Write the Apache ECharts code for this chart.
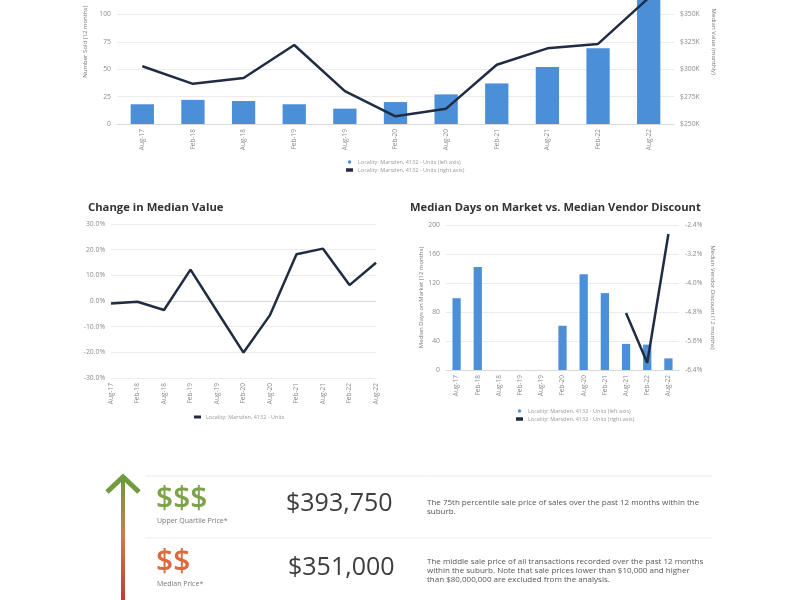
<!DOCTYPE html>
<html>
<head>
<meta charset="utf-8">
<script src="https://cdn.jsdelivr.net/npm/echarts@6/dist/echarts.min.js"></script>
<style>
  html, body { margin: 0; padding: 0; background: #fff; overflow: hidden; }
  /* the page is cropped: the top of the first chart sits above the window */
  #main { position: absolute; left: 0; top: -44px; width: 800px; height: 644px; }
</style>
</head>
<body>
<div id="main"></div>
<script>
// categories (half-yearly)
var periods = ['Aug-17', 'Feb-18', 'Aug-18', 'Feb-19', 'Aug-19', 'Feb-20', 'Aug-20', 'Feb-21', 'Aug-21', 'Feb-22', 'Aug-22'];

// chart 1: number sold (left) + median value in $K (right)
var numberSold = [18, 22, 21, 18, 14, 20, 27, 37, 52, 69, 120];
var medianValue = [302.7, 286.6, 292, 322, 280, 257, 264, 304, 319, 323, 365];

// chart 2: change in median value (%)
var changeMedian = [-1.0, -0.3, -3.5, 12.2, -4.0, -20.1, -5.5, 18.2, 20.4, 6.2, 14.9];

// chart 3: days on market (left) + vendor discount % (right)
var daysOnMarket = [99, 142, null, null, null, 61, 132, 106, 36, 35, 16];
var vendorDiscount = [null, null, null, null, null, null, null, null, -4.83, -6.2, -2.65];

var nameLeft = 'Locality: Marsden, 4132 - Units (left axis)';
var nameRight = 'Locality: Marsden, 4132 - Units (right axis)';
var nameUnits = 'Locality: Marsden, 4132 - Units';

var barColor = '#4a8fd8';
var lineColor = '#1f2c42';
var gridColor = '#ebebeb';
var labelColor = '#8c8c8c';
var font = 'Open Sans';
var dy = 44; // container offset

var myChart = echarts.init(document.getElementById('main'));

function catAxis(gridIndex, gap) {
  return {
    type: 'category', gridIndex: gridIndex, data: periods, boundaryGap: gap,
    axisLine: { lineStyle: { color: '#d9d9d9' } },
    axisTick: { show: false },
    axisLabel: { rotate: 90, fontSize: 6.5, color: labelColor, fontFamily: font, margin: 5 }
  };
}

function valAxis(gridIndex, min, max, interval, fmt, pos, name, gap) {
  return {
    type: 'value', gridIndex: gridIndex, position: pos, min: min, max: max, interval: interval,
    name: name, nameLocation: 'middle', nameGap: gap, nameRotate: pos === 'right' ? -90 : 90,
    nameTextStyle: { fontSize: 6, color: '#777', fontFamily: font },
    axisLine: { show: false }, axisTick: { show: false },
    splitLine: { show: pos !== 'right', lineStyle: { color: gridColor } },
    axisLabel: { fontSize: 6.8, color: labelColor, fontFamily: font, margin: 6, formatter: fmt }
  };
}

var option = {
  animation: false,
  textStyle: { fontFamily: font },
  title: [
    { text: 'Change in Median Value', left: 83, top: 197 + dy,
      textStyle: { fontSize: 11.3, fontWeight: 'bold', color: '#333', fontFamily: font } },
    { text: 'Median Days on Market vs. Median Vendor Discount', left: 405, top: 197 + dy,
      textStyle: { fontSize: 11.2, fontWeight: 'bold', color: '#333', fontFamily: font } }
  ],
  legend: [
    { left: 341, top: 154 + dy, orient: 'vertical', itemGap: 2, itemWidth: 7, itemHeight: 3.5,
      textStyle: { fontSize: 5.5, color: '#9a9a9a' },
      data: [{ name: nameLeft, icon: 'circle' }, { name: nameRight, icon: 'rect' }] },
    { left: 189, top: 409 + dy, itemWidth: 7, itemHeight: 3,
      textStyle: { fontSize: 5.5, color: '#9a9a9a' },
      data: [{ name: nameUnits, icon: 'rect' }] },
    { left: 511, top: 403 + dy, orient: 'vertical', itemGap: 2, itemWidth: 7, itemHeight: 3.5,
      textStyle: { fontSize: 5.5, color: '#9a9a9a' },
      data: [{ name: nameLeft, icon: 'circle' }, { name: nameRight, icon: 'rect' }] }
  ],
  grid: [
    { left: 117, width: 557, top: 0, height: 168 },
    { left: 111, width: 265, top: 224 + dy, height: 154 },
    { left: 446, width: 233, top: 225 + dy, height: 145 }
  ],
  xAxis: [catAxis(0, true), catAxis(1, false), catAxis(2, true)],
  yAxis: [
    valAxis(0, 0, 150, 25, null, 'left', 'Number Sold (12 months)', 19),
    valAxis(0, 250, 400, 25, function (v) { return '$' + v + 'K'; }, 'right', 'Median Value (monthly)', 33),
    valAxis(1, -30, 30, 10, function (v) { return v.toFixed(1) + '%'; }, 'left', '', 0),
    valAxis(2, 0, 200, 40, null, 'left', 'Median Days on Market (12 months)', 18),
    valAxis(2, -6.4, -2.4, 0.8, function (v) { return v.toFixed(1) + '%'; }, 'right', 'Median Vendor Discount (12 months)', 31)
  ],
  series: [
    { name: nameLeft, type: 'bar', xAxisIndex: 0, yAxisIndex: 0, data: numberSold,
      barWidth: '46%', itemStyle: { color: barColor } },
    { name: nameRight, type: 'line', xAxisIndex: 0, yAxisIndex: 1, data: medianValue,
      symbol: 'none', lineStyle: { color: lineColor, width: 2.5 }, itemStyle: { color: lineColor } },
    { name: nameUnits, type: 'line', xAxisIndex: 1, yAxisIndex: 2, data: changeMedian,
      symbol: 'none', lineStyle: { color: lineColor, width: 2.5 }, itemStyle: { color: lineColor } },
    { name: nameLeft, type: 'bar', xAxisIndex: 2, yAxisIndex: 3, data: daysOnMarket,
      barWidth: '39%', itemStyle: { color: barColor } },
    { name: nameRight, type: 'line', xAxisIndex: 2, yAxisIndex: 4, data: vendorDiscount,
      symbol: 'none', lineStyle: { color: lineColor, width: 2.5 }, itemStyle: { color: lineColor } }
  ],
  graphic: [
    // separators
    { type: 'line', shape: { x1: 145, y1: 476 + dy, x2: 712, y2: 476 + dy }, style: { stroke: '#ececec', lineWidth: 1 } },
    { type: 'line', shape: { x1: 145, y1: 538 + dy, x2: 712, y2: 538 + dy }, style: { stroke: '#ececec', lineWidth: 1 } },
    // gradient arrow
    { type: 'rect', shape: { x: 121, y: 480 + dy, width: 4, height: 125 },
      style: { fill: new echarts.graphic.LinearGradient(0, 0, 0, 1, [
        { offset: 0, color: '#6f9a3e' }, { offset: 0.45, color: '#d07a48' }, { offset: 1, color: '#c0392b' }
      ]) } },
    { type: 'polyline', shape: { points: [[107, 492 + dy], [123, 477 + dy], [139, 492 + dy]] },
      style: { stroke: '#6f9a3e', lineWidth: 5, fill: null } },
    // upper quartile row
    { type: 'text', left: 156, top: 484 + dy, style: { text: '$$$', fontSize: 30, fontWeight: 600, fill: '#7da249', fontFamily: font } },
    { type: 'text', left: 157, top: 517 + dy, style: { text: 'Upper Quartile Price*', fontSize: 7, fill: '#777', fontFamily: font } },
    { type: 'text', left: 286, top: 491 + dy, style: { text: '$393,750', fontSize: 25, fill: '#3d3d3d', fontFamily: font } },
    { type: 'text', left: 427, top: 498 + dy, style: { text: 'The 75th percentile sale price of sales over the past 12 months within the\nsuburb.',
      fontSize: 8, lineHeight: 9, fill: '#555', fontFamily: font } },
    // median row
    { type: 'text', left: 156, top: 547 + dy, style: { text: '$$', fontSize: 30, fontWeight: 600, fill: '#dd6a3f', fontFamily: font } },
    { type: 'text', left: 157, top: 580 + dy, style: { text: 'Median Price*', fontSize: 7, fill: '#777', fontFamily: font } },
    { type: 'text', left: 288, top: 555 + dy, style: { text: '$351,000', fontSize: 25, fill: '#3d3d3d', fontFamily: font } },
    { type: 'text', left: 427, top: 557 + dy, style: { text: 'The middle sale price of all transactions recorded over the past 12 months\nwithin the suburb. Note that sale prices lower than $10,000 and higher\nthan $80,000,000 are excluded from the analysis.',
      fontSize: 8, lineHeight: 9, fill: '#555', fontFamily: font } }
  ]
};

myChart.setOption(option);
window.addEventListener('resize', function () {
  myChart.resize();
});
</script>
</body>
</html>
